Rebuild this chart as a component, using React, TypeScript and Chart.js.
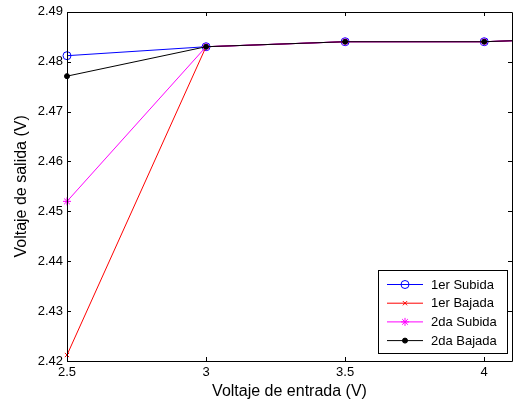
import React, { useEffect, useRef } from 'react';
import { Chart, registerables } from 'chart.js';

Chart.register(...registerables);

// ---- data ----
const xValues = [2.5, 3, 3.5, 4, 4.5];
const subida1 = [2.4812, 2.483, 2.484, 2.484, 2.485];
const bajada1 = [2.4212, 2.483, 2.484, 2.484, 2.485];
const subida2 = [2.452, 2.483, 2.484, 2.484, 2.485];
const bajada2 = [2.4771, 2.483, 2.484, 2.484, 2.485];
const seriesLabels = ['1er Subida', '1er Bajada', '2da Subida', '2da Bajada'];
const xTicks = [2.5, 3, 3.5, 4];
const yTicks = [2.42, 2.43, 2.44, 2.45, 2.46, 2.47, 2.48, 2.49];
const xTitle = 'Voltaje de entrada (V)';
const yTitle = 'Voltaje de salida (V)';

const FONT = '"Liberation Sans", Arial, Helvetica, sans-serif';

type Style = { color: string; pointStyle: string; radius: number; fill: string };
const styles: Style[] = [
  { color: '#0000ff', pointStyle: 'circle', radius: 4, fill: 'rgba(0,0,0,0)' },
  { color: '#ff0000', pointStyle: 'crossRot', radius: 3, fill: '#ff0000' },
  { color: '#ff00ff', pointStyle: 'star', radius: 4, fill: '#ff00ff' },
  { color: '#000000', pointStyle: 'circle', radius: 2.5, fill: '#000000' },
];

function drawMarker(ctx: CanvasRenderingContext2D, s: Style, x: number, y: number) {
  const r = s.radius;
  ctx.save();
  ctx.strokeStyle = s.color;
  ctx.fillStyle = s.fill;
  ctx.lineWidth = 1;
  ctx.beginPath();
  if (s.pointStyle === 'circle') {
    ctx.arc(x, y, r, 0, Math.PI * 2);
    ctx.fill();
    ctx.stroke();
  } else {
    const d = r * Math.SQRT1_2;
    if (s.pointStyle === 'crossRot' || s.pointStyle === 'star') {
      ctx.moveTo(x - d, y - d); ctx.lineTo(x + d, y + d);
      ctx.moveTo(x - d, y + d); ctx.lineTo(x + d, y - d);
    }
    if (s.pointStyle === 'star') {
      ctx.moveTo(x - r, y); ctx.lineTo(x + r, y);
      ctx.moveTo(x, y - r); ctx.lineTo(x, y + r);
    }
    ctx.stroke();
  }
  ctx.restore();
}

const matlabFrame = {
  id: 'matlabFrame',
  afterDatasetsDraw(chart: any) {
    const { ctx, chartArea: a, scales } = chart;
    const left = Math.round(a.left), right = Math.round(a.right);
    const top = Math.round(a.top), bottom = Math.round(a.bottom);
    ctx.save();
    ctx.strokeStyle = '#000';
    ctx.lineWidth = 1;
    ctx.beginPath();
    ctx.rect(left + 0.5, top + 0.5, right - left, bottom - top);
    ctx.stroke();
    const L = 4;
    ctx.beginPath();
    scales.x.ticks.forEach((t: any) => {
      const px = Math.round(scales.x.getPixelForValue(t.value)) + 0.5;
      ctx.moveTo(px, bottom); ctx.lineTo(px, bottom - L);
      ctx.moveTo(px, top); ctx.lineTo(px, top + L);
    });
    scales.y.ticks.forEach((t: any) => {
      const py = Math.round(scales.y.getPixelForValue(t.value)) + 0.5;
      ctx.moveTo(left, py); ctx.lineTo(left + L, py);
      ctx.moveTo(right, py); ctx.lineTo(right - L, py);
    });
    ctx.stroke();

    // legend box
    const bw = 129, bh = 83;
    const bx = right - 5 - bw, by = bottom - 8 - bh;
    ctx.fillStyle = '#fff';
    ctx.fillRect(bx, by, bw, bh);
    ctx.strokeStyle = '#000';
    ctx.strokeRect(bx + 0.5, by + 0.5, bw, bh);
    ctx.font = '13px ' + FONT;
    ctx.textBaseline = 'middle';
    ctx.textAlign = 'left';
    seriesLabels.forEach((lab, i) => {
      const s = styles[i];
      const yy = by + 14.5 + i * 18.7;
      ctx.strokeStyle = s.color;
      ctx.beginPath();
      ctx.moveTo(bx + 9, yy); ctx.lineTo(bx + 45, yy);
      ctx.stroke();
      drawMarker(ctx, s, bx + 27, yy);
      ctx.fillStyle = '#000';
      ctx.fillText(lab, bx + 53, yy + 0.5);
    });
    ctx.restore();
  },
};

export default function App() {
  const ref = useRef<HTMLCanvasElement | null>(null);
  useEffect(() => {
    if (!ref.current) return;
    Chart.defaults.font.family = FONT;
    Chart.defaults.color = '#000';
    const series = [subida1, bajada1, subida2, bajada2];
    const chart = new Chart(ref.current, {
      type: 'line',
      data: {
        datasets: series.map((arr, i) => ({
          label: seriesLabels[i],
          data: xValues.map((x, j) => ({ x, y: arr[j] })),
          borderColor: styles[i].color,
          backgroundColor: styles[i].fill,
          borderWidth: 1,
          pointStyle: styles[i].pointStyle as any,
          pointRadius: styles[i].radius,
          pointBorderColor: styles[i].color,
          pointBackgroundColor: styles[i].fill,
          pointBorderWidth: 1,
          tension: 0,
          fill: false,
          order: 4 - i,
          clip: { left: 8, top: 8, bottom: 8, right: 0 } as any,
        })),
      },
      options: {
        animation: false,
        responsive: false,
        devicePixelRatio: 1,
        layout: { padding: { left: 0, right: 6, top: 10, bottom: 0 } },
        plugins: { legend: { display: false }, tooltip: { enabled: false } },
        scales: {
          x: {
            type: 'linear',
            min: 2.5,
            max: 4.1,
            afterBuildTicks: (s: any) => { s.ticks = xTicks.map((v) => ({ value: v })); },
            afterFit: (s: any) => { s.height = 45; },
            grid: { display: false, drawTicks: false },
            border: { display: false },
            ticks: { font: { size: 13 }, padding: 4, color: '#000', callback: (v: any) => String(v), maxRotation: 0 },
            title: { display: true, text: xTitle, font: { size: 16 }, padding: { top: 0, bottom: 5 }, color: '#000' },
          },
          y: {
            type: 'linear',
            min: 2.42,
            max: 2.49,
            afterBuildTicks: (s: any) => { s.ticks = yTicks.map((v) => ({ value: v })); },
            afterFit: (s: any) => { s.width = 67; },
            grid: { display: false, drawTicks: false },
            border: { display: false },
            ticks: { font: { size: 13 }, padding: 4, color: '#000', callback: (v: any) => Number(v).toFixed(2) },
            title: { display: true, text: yTitle, font: { size: 16 }, padding: { top: 12, bottom: 0 }, color: '#000' },
          },
        },
      },
      plugins: [matlabFrame],
    });
    return () => chart.destroy();
  }, []);
  return (
    <div style={{ position: 'absolute', left: 0, top: 0, width: 518, height: 406, background: '#fff' }}>
      <canvas ref={ref} width={518} height={406} style={{ display: 'block' }} />
    </div>
  );
}
